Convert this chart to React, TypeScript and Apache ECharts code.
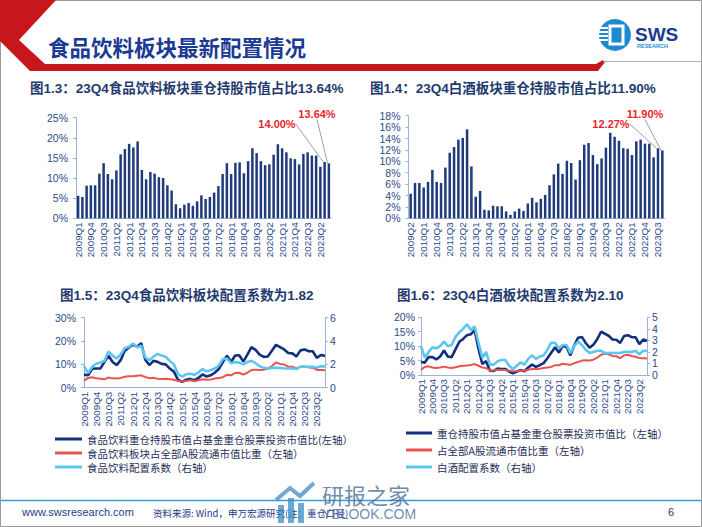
import React, { useEffect, useRef } from "react";
import * as echarts from "echarts";

// ---------- categories ----------
const years = [2009, 2010, 2011, 2012, 2013, 2014, 2015, 2016, 2017, 2018, 2019, 2020, 2021, 2022, 2023];
const quarters: string[] = years.flatMap((y) => ["Q1", "Q2", "Q3", "Q4"].map((q) => `${y}${q}`));

// ---------- data (%) ----------
// 食品饮料 重仓持股市值占基金重仓股票投资市值比, 2009Q1..2023Q4
const foodFundShare = [
  5.6, 5.3, 8.1, 8.2,
  8.2, 11.1, 13.7, 11.0,
  9.7, 11.9, 15.9, 17.2,
  18.5, 17.6, 19.1, 12.0,
  9.7, 11.5, 11.1, 10.2,
  10.0, 8.2, 6.9, 3.5,
  2.5, 3.4, 3.8, 3.1,
  4.2, 5.7, 4.8, 5.3,
  6.4, 8.0, 11.0, 13.7,
  11.0, 13.8, 13.9, 11.2,
  14.2, 17.4, 16.2, 14.2,
  13.2, 13.4, 15.8, 18.4,
  17.4, 16.4, 14.9, 14.7,
  13.4, 16.0, 16.4, 15.6,
  15.6, 12.8, 14.0, 13.64,
];
// 食品饮料板块占全部A股流通市值比重
const foodMarketShare = [
  3.0, 4.2, 4.5, 4.0,
  3.8, 3.6, 4.4, 4.0,
  3.9, 4.2, 4.7, 4.9,
  4.9, 5.1, 5.3, 4.6,
  4.1, 4.3, 3.8, 3.7,
  3.8, 3.6, 3.4, 2.9,
  2.7, 2.9, 3.2, 2.8,
  3.2, 3.6, 3.4, 3.5,
  3.9, 4.2, 4.5, 5.5,
  5.3, 6.3, 6.4, 5.6,
  6.4, 7.6, 7.7, 7.6,
  7.7, 8.2, 9.3, 10.8,
  10.2, 9.9, 9.0, 9.0,
  8.3, 9.0, 9.1, 8.7,
  8.6, 7.6, 7.6, 7.5,
];
// 食品饮料配置系数
const foodCoef = [
  1.85, 1.25, 1.8, 2.05,
  2.15, 2.3, 3.1, 2.75,
  2.5, 2.85, 3.4, 3.5,
  3.8, 3.45, 3.6, 2.6,
  2.35, 2.65, 2.9, 2.75,
  2.65, 2.3, 2.0, 1.2,
  0.95, 1.15, 1.2, 1.1,
  1.3, 1.6, 1.4, 1.5,
  1.65, 1.9, 2.45, 2.5,
  2.1, 2.2, 2.15, 2.0,
  2.2, 2.3, 2.1, 1.85,
  1.7, 1.65, 1.7, 1.7,
  1.7, 1.65, 1.65, 1.65,
  1.6, 1.8, 1.8, 1.8,
  1.8, 1.7, 1.85, 1.82,
];
// 白酒 重仓持股市值占基金重仓股票投资市值比, 2009Q1..2023Q4
const baijiuFundShare = [
  4.5, 4.3, 6.2, 6.2,
  5.4, 6.4, 8.5, 6.4,
  6.2, 8.9, 11.5, 12.5,
  13.8, 14.1, 15.6, 9.1,
  3.8, 4.8, 1.5, 1.4,
  2.2, 2.1, 2.1, 1.2,
  0.6, 1.2, 1.7, 1.3,
  2.6, 3.6, 2.8, 3.4,
  4.1, 5.8, 7.7, 9.6,
  7.8, 10.1, 9.7, 6.8,
  10.2, 12.9, 13.2, 11.1,
  9.5, 10.5, 12.4, 15.0,
  14.3, 13.6, 12.3, 12.2,
  11.1, 13.5, 13.8, 13.1,
  13.1, 10.7, 12.27, 11.9,
];
// 白酒 占全部A股流通市值比重
const baijiuMarketShare = [
  1.8, 2.8, 3.0, 2.6,
  2.4, 2.6, 2.9, 2.6,
  2.4, 2.7, 3.0, 3.2,
  3.3, 3.5, 3.8, 3.2,
  2.6, 2.4, 1.6, 1.6,
  1.8, 1.7, 1.7, 1.5,
  1.3, 1.4, 1.6, 1.5,
  1.8, 2.1, 2.1, 2.2,
  2.4, 2.6, 2.8, 3.4,
  3.4, 3.9, 3.7, 3.5,
  4.1, 4.5, 5.0, 5.1,
  5.0, 5.3, 6.0, 7.0,
  7.4, 7.2, 6.6, 6.5,
  5.8, 6.8, 7.0, 6.6,
  6.3, 5.9, 5.8, 5.7,
];
// 白酒配置系数
const baijiuCoef = [
  2.5, 1.5, 2.0, 2.4,
  2.3, 2.5, 2.9, 2.5,
  2.6, 3.3, 3.7, 4.0,
  4.4, 3.9, 4.2, 2.8,
  1.5, 2.0, 0.9, 0.9,
  1.2, 1.3, 1.3, 0.8,
  0.5, 0.8, 1.1, 0.9,
  1.4, 1.7, 1.4, 1.6,
  1.7, 2.2, 2.8, 2.8,
  2.3, 2.6, 2.6, 1.9,
  2.5, 2.9, 2.6, 2.2,
  1.9, 2.0, 2.1, 2.1,
  1.9, 1.9, 1.9, 1.9,
  1.9, 2.0, 2.0, 2.0,
  2.1, 1.8, 2.1, 2.1,
];

// bar chart 2 starts at 2009Q2
const baijiuBarCats = quarters.slice(1);
const baijiuBarVals = baijiuFundShare.slice(1);

const names3 = [
  "食品饮料重仓持股市值占基金重仓股票投资市值比(左轴）",
  "食品饮料板块占全部A股流通市值比重（左轴）",
  "食品饮料配置系数（右轴）",
];
const names4 = [
  "重仓持股市值占基金重仓股票投资市值比（左轴）",
  "占全部A股流通市值比重（左轴）",
  "白酒配置系数（右轴）",
];

const FONT = "'Liberation Sans', 'Noto Sans CJK SC', sans-serif";
const CJK = "'Noto Sans CJK SC', 'Liberation Sans', sans-serif";
const NAVY = "#1F3A7A";
const DARKLINE = "#12307E";
const RED = "#E8544E";
const LIGHT = "#5CC6F2";
const AXIS = "#9DB3D8";
const LABEL = "#2C4A8A";
const ANNO = "#E8262A";

const catAxis = (gridIndex: number, data: string[], boundaryGap: boolean) => ({
  type: "category",
  gridIndex,
  data,
  boundaryGap,
  axisLine: { lineStyle: { color: AXIS, width: 1 } },
  axisTick: { show: false },
  axisLabel: { rotate: 90, interval: 2, fontSize: 9.8, color: LABEL, fontFamily: FONT, margin: 4 },
});

const valAxis = (
  gridIndex: number,
  max: number,
  interval: number,
  pct: boolean,
  position: "left" | "right",
  margin: number
) => ({
  type: "value",
  gridIndex,
  min: 0,
  max,
  interval,
  position,
  axisLine: { show: true, lineStyle: { color: AXIS, width: 1 } },
  axisTick: { show: true, length: 3, lineStyle: { color: AXIS } },
  splitLine: { show: false },
  axisLabel: {
    formatter: pct ? "{value}%" : "{value}",
    fontSize: 10.5,
    color: LABEL,
    fontFamily: FONT,
    margin,
  },
});

const annoLabel = {
  show: true,
  formatter: (p: any) => `${Number(p.value).toFixed(2)}%`,
  color: ANNO,
  fontWeight: "bold",
  fontSize: 11,
  fontFamily: FONT,
};

export default function App() {
  const ref = useRef<HTMLDivElement>(null);

  useEffect(() => {
    if (!ref.current) return;
    const chart = echarts.init(ref.current, undefined, { renderer: "svg" });

    const n1 = foodFundShare.length;
    const n2 = baijiuBarVals.length;

    const option: any = {
      animation: false,
      backgroundColor: "#ffffff",
      grid: [
        { left: 76, top: 117.7, width: 255, height: 100.6 },
        { left: 408.5, top: 115.7, width: 256, height: 102.6 },
        { left: 84, top: 317.7, width: 241, height: 70 },
        { left: 421, top: 317.3, width: 226, height: 57.7 },
      ],
      xAxis: [
        catAxis(0, quarters, true),
        catAxis(1, baijiuBarCats, true),
        catAxis(2, quarters, false),
        catAxis(3, quarters, false),
      ],
      yAxis: [
        valAxis(0, 25, 5, true, "left", 8),
        valAxis(1, 18, 2, true, "left", 8),
        valAxis(2, 30, 10, true, "left", 8),
        valAxis(2, 6, 2, false, "right", 5),
        valAxis(3, 20, 5, true, "left", 6),
        valAxis(3, 5, 1, false, "right", 5),
      ],
      legend: [
        {
          data: names3,
          orient: "vertical",
          left: 55,
          top: 433,
          padding: 0,
          itemGap: 2,
          itemWidth: 27,
          itemHeight: 3,
          icon: "rect",
          textStyle: { fontSize: 10.5, color: "#1F2F5A", fontFamily: CJK, lineHeight: 12 },
        },
        {
          data: names4,
          orient: "vertical",
          left: 406,
          top: 427,
          padding: 0,
          itemGap: 5,
          itemWidth: 26,
          itemHeight: 3,
          icon: "rect",
          textStyle: { fontSize: 10.5, color: "#1F2F5A", fontFamily: CJK, lineHeight: 12 },
        },
      ],
      series: [
        {
          type: "bar",
          xAxisIndex: 0,
          yAxisIndex: 0,
          barWidth: 2.5,
          itemStyle: { color: NAVY },
          data: foodFundShare.map((v, i) =>
            i >= n1 - 2 ? { value: v, label: annoLabel } : v
          ),
          labelLayout: (p: any) =>
            p.dataIndex === n1 - 2
              ? { x: 277, y: 124, align: "center", verticalAlign: "middle" }
              : { x: 317, y: 114, align: "center", verticalAlign: "middle" },
          labelLine: { show: true, lineStyle: { color: "#A0A0A0", width: 1 } },
        },
        {
          type: "bar",
          xAxisIndex: 1,
          yAxisIndex: 1,
          barWidth: 2.5,
          itemStyle: { color: NAVY },
          data: baijiuBarVals.map((v, i) =>
            i >= n2 - 2 ? { value: v, label: annoLabel } : v
          ),
          labelLayout: (p: any) =>
            p.dataIndex === n2 - 2
              ? { x: 611, y: 124, align: "center", verticalAlign: "middle" }
              : { x: 645, y: 114, align: "center", verticalAlign: "middle" },
          labelLine: { show: true, lineStyle: { color: "#A0A0A0", width: 1 } },
        },
        {
          name: names3[0],
          type: "line",
          xAxisIndex: 2,
          yAxisIndex: 2,
          data: foodFundShare,
          showSymbol: false,
          color: DARKLINE,
          lineStyle: { color: DARKLINE, width: 2.6 },
        },
        {
          name: names3[1],
          type: "line",
          xAxisIndex: 2,
          yAxisIndex: 2,
          data: foodMarketShare,
          showSymbol: false,
          color: RED,
          lineStyle: { color: RED, width: 2 },
        },
        {
          name: names3[2],
          type: "line",
          xAxisIndex: 2,
          yAxisIndex: 3,
          data: foodCoef,
          showSymbol: false,
          color: LIGHT,
          lineStyle: { color: LIGHT, width: 2.6 },
        },
        {
          name: names4[0],
          type: "line",
          xAxisIndex: 3,
          yAxisIndex: 4,
          data: baijiuFundShare,
          showSymbol: false,
          color: DARKLINE,
          lineStyle: { color: DARKLINE, width: 2.6 },
        },
        {
          name: names4[1],
          type: "line",
          xAxisIndex: 3,
          yAxisIndex: 4,
          data: baijiuMarketShare,
          showSymbol: false,
          color: RED,
          lineStyle: { color: RED, width: 2 },
        },
        {
          name: names4[2],
          type: "line",
          xAxisIndex: 3,
          yAxisIndex: 5,
          data: baijiuCoef,
          showSymbol: false,
          color: LIGHT,
          lineStyle: { color: LIGHT, width: 2.6 },
        },
      ],
      graphic: [
        // slide frame
        { type: "rect", shape: { x: 0.5, y: 0.5, width: 701, height: 526 }, style: { fill: "none", stroke: "#9A9A9A", lineWidth: 1 }, z: 0 },
        // header red band
        {
          type: "polygon",
          shape: {
            points: [[0, 0], [56, 0], [19, 40], [45, 64], [596, 64], [603, 60], [605, 62], [598, 71], [30, 71], [0, 41]],
          },
          style: { fill: "#C8161D" },
        },
        { type: "line", shape: { x1: 603, y1: 61.5, x2: 702, y2: 61.5 }, style: { stroke: "#B0B0B0", lineWidth: 1.2 } },
        // main title
        {
          type: "text",
          x: 48,
          y: 46,
          style: {
            text: "食品饮料板块最新配置情况",
            fontSize: 21.5,
            fontWeight: "bold",
            fill: "#1B3A93",
            fontFamily: CJK,
            textVerticalAlign: "middle",
            verticalAlign: "middle",
          },
        },
        // SWS logo
        { type: "circle", shape: { cx: 615, cy: 35, r: 16 }, style: { fill: "#1E8AD2" } },
        { type: "rect", shape: { x: 610, y: 26, width: 13, height: 18 }, style: { fill: "none", stroke: "#ffffff", lineWidth: 3 } },
        { type: "rect", shape: { x: 599, y: 27, width: 9, height: 2 }, style: { fill: "#ffffff" } },
        { type: "rect", shape: { x: 599, y: 31, width: 9, height: 2 }, style: { fill: "#ffffff" } },
        { type: "rect", shape: { x: 599, y: 35, width: 9, height: 2 }, style: { fill: "#ffffff" } },
        { type: "rect", shape: { x: 599, y: 39, width: 9, height: 2 }, style: { fill: "#ffffff" } },
        {
          type: "text",
          x: 635,
          y: 34,
          style: { text: "SWS", fontSize: 19, fontWeight: "bold", fill: "#1B3A93", fontFamily: FONT, verticalAlign: "middle" },
        },
        {
          type: "text",
          x: 637,
          y: 46,
          style: { text: "RESEARCH", fontSize: 5.5, fontWeight: "bold", fill: "#1E8AD2", fontFamily: FONT, verticalAlign: "middle" },
        },
        // chart titles
        {
          type: "text",
          x: 30,
          y: 88,
          style: { text: "图1.3：23Q4食品饮料板块重仓持股市值占比13.64%", fontSize: 13.5, fontWeight: "bold", fill: "#1F3A6E", fontFamily: FONT, verticalAlign: "middle" },
        },
        {
          type: "text",
          x: 370,
          y: 88,
          style: { text: "图1.4：23Q4白酒板块重仓持股市值占比11.90%", fontSize: 13.5, fontWeight: "bold", fill: "#1F3A6E", fontFamily: FONT, verticalAlign: "middle" },
        },
        {
          type: "text",
          x: 60,
          y: 295,
          style: { text: "图1.5：23Q4食品饮料板块配置系数为1.82", fontSize: 13.5, fontWeight: "bold", fill: "#1F3A6E", fontFamily: FONT, verticalAlign: "middle" },
        },
        {
          type: "text",
          x: 397,
          y: 295,
          style: { text: "图1.6：23Q4白酒板块配置系数为2.10", fontSize: 13.5, fontWeight: "bold", fill: "#1F3A6E", fontFamily: FONT, verticalAlign: "middle" },
        },
        // footer
        { type: "line", shape: { x1: 1, y1: 500.5, x2: 701, y2: 500.5 }, style: { stroke: "#3A9AD9", lineWidth: 1.5 } },
        {
          type: "text",
          x: 22,
          y: 512,
          style: { text: "www.swsresearch.com", fontSize: 11, fill: "#1F3A8C", fontFamily: FONT, verticalAlign: "middle" },
        },
        {
          type: "text",
          x: 153,
          y: 513,
          style: { text: "资料来源: Wind，申万宏源研究(注：重仓口径)", fontSize: 9.5, fill: "#1F3A8C", fontFamily: CJK, verticalAlign: "middle" },
        },
        {
          type: "text",
          x: 668,
          y: 512,
          style: { text: "6", fontSize: 11, fill: "#1F3A8C", fontFamily: FONT, verticalAlign: "middle" },
        },
        // watermark
        { type: "rect", shape: { x: 278, y: 505, width: 6, height: 18 }, style: { fill: "#3C8CC8", opacity: 0.75 } },
        { type: "rect", shape: { x: 288, y: 498, width: 6, height: 25 }, style: { fill: "#3C8CC8", opacity: 0.75 } },
        { type: "rect", shape: { x: 298, y: 503, width: 6, height: 20 }, style: { fill: "#3C8CC8", opacity: 0.75 } },
        { type: "polyline", shape: { points: [[276, 500], [290, 488], [300, 496], [314, 483]] }, style: { stroke: "#3C8CC8", lineWidth: 4, opacity: 0.75 } },
        {
          type: "text",
          x: 322,
          y: 494,
          style: { text: "研报之家", fontSize: 22, fill: "#4A6E98", opacity: 0.8, fontFamily: CJK, verticalAlign: "middle" },
        },
        {
          type: "text",
          x: 322,
          y: 514,
          style: { text: "YBLOOK.COM", fontSize: 14, fill: "#4A6E98", opacity: 0.8, fontFamily: FONT, verticalAlign: "middle" },
        },
      ],
    };

    chart.setOption(option);
    return () => chart.dispose();
  }, []);

  return (
    <div
      ref={ref}
      style={{ position: "fixed", left: 0, top: 0, width: 702, height: 527, background: "#fff" }}
    />
  );
}
